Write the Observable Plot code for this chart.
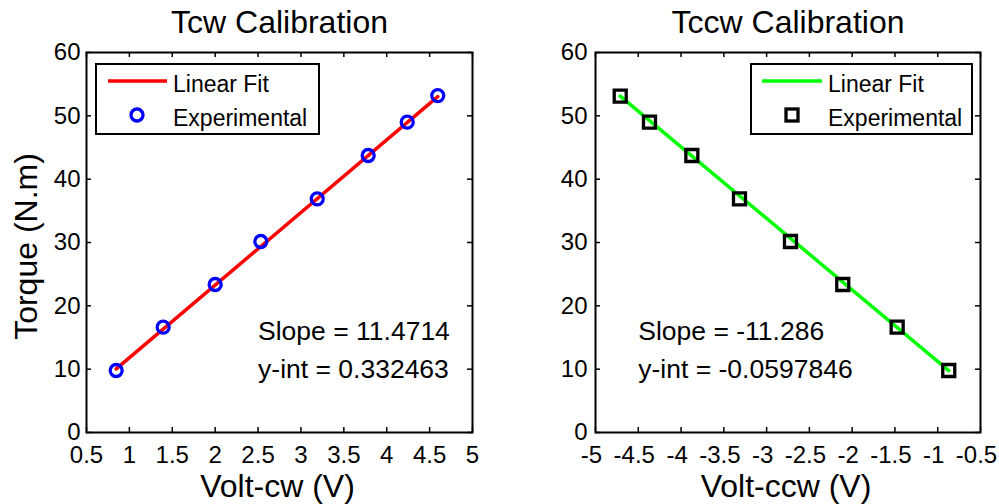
<!DOCTYPE html>
<html><head><meta charset="utf-8">
<script src="https://cdn.jsdelivr.net/npm/d3@7"></script>
<script src="https://cdn.jsdelivr.net/npm/@observablehq/plot@0.6"></script>
<style>
body{margin:0;background:#fff;}
#wrap{position:relative;width:999px;height:504px;overflow:hidden;background:#fff;font-family:"Liberation Sans",Arial,sans-serif;}
.panel{position:absolute;top:0;}
#legend{position:absolute;left:0;top:0;}
</style></head><body><div id="wrap"></div>
<script>
// ---- data ----
const cwVolt = [0.846, 1.394, 2.0, 2.532, 3.19, 3.784, 4.239, 4.595];
const cwTorque = [9.79, 16.63, 23.37, 30.16, 36.9, 43.74, 49.0, 53.2];
const cwFitVolt = [0.846, 4.595];
const cwFitTorque = [10.04, 53.04];
const ccwVolt = [-4.711, -4.369, -3.874, -3.317, -2.721, -2.11, -1.474, -0.871];
const ccwTorque = [53.1, 49.0, 43.74, 36.9, 30.16, 23.37, 16.63, 9.79];
const ccwFitVolt = [-4.711, -0.871];
const ccwFitTorque = [53.11, 9.77];
const cwXTicks = [0.5, 1, 1.5, 2, 2.5, 3, 3.5, 4, 4.5, 5];
const ccwXTicks = [-5, -4.5, -4, -3.5, -3, -2.5, -2, -1.5, -1, -0.5];
const yTicks = [0, 10, 20, 30, 40, 50, 60];
const titles = ["Tcw Calibration", "Tccw Calibration"];
const xLabels = ["Volt-cw (V)", "Volt-ccw (V)"];
const yLabel = "Torque (N.m)";
const legendLabels = ["Linear Fit", "Experimental"];
const cwNoteText = ["Slope = 11.4714", "y-int = 0.332463"];
const cwNoteX = [2.5, 2.5];
const cwNoteY = [16, 10];
const ccwNoteText = ["Slope = -11.286", "y-int = -0.0597846"];
const ccwNoteX = [-4.5, -4.5];
const ccwNoteY = [16, 10];

const FONT = "'Liberation Sans', Arial, sans-serif";
const W = 500, H = 504, MT = 52, MB = 72;

function panel(o) {
  const fw = W - o.ml - o.mr, fh = H - MT - MB;
  const pts = o.px.map((x, i) => ({x, y: o.py[i]}));
  const fit = o.fx.map((x, i) => ({x, y: o.fy[i]}));
  const notes = o.noteText.map((t, i) => ({x: o.noteX[i], y: o.noteY[i], t}));
  const marks = [
    Plot.tickX(o.xTicks, {x: d => d, insetTop: fh - 5, stroke: "black", strokeWidth: 1.5}),
    Plot.tickX(o.xTicks, {x: d => d, insetBottom: fh - 5, stroke: "black", strokeWidth: 1.5}),
    Plot.tickY(yTicks, {y: d => d, insetRight: fw - 5, stroke: "black", strokeWidth: 1.5}),
    Plot.tickY(yTicks, {y: d => d, insetLeft: fw - 5, stroke: "black", strokeWidth: 1.5}),
    Plot.line(fit, {x: "x", y: "y", stroke: o.color, strokeWidth: 3.5}),
    Plot.dot(pts, {x: "x", y: "y", symbol: o.symbol, r: o.r, stroke: o.mstroke, strokeWidth: 3.3, fill: "none"}),
    Plot.frame({stroke: "black", strokeWidth: 2}),
    Plot.axisX(o.xTicks, {tickSize: 0, tickPadding: 13, dx: o.xdx, fontSize: 24, tickFormat: d => String(d), label: null}),
    Plot.axisY(yTicks, {tickSize: 0, tickPadding: o.ypad, fontSize: 24, tickFormat: d => String(d), label: null}),
    Plot.text([o.title], {text: d => d, frameAnchor: "top", dy: -29.5, fontSize: 32, lineAnchor: "middle"}),
    Plot.text([o.xLabel], {text: d => d, frameAnchor: "bottom", dy: 54, dx: -2, fontSize: 32, lineAnchor: "middle"}),
    Plot.text(notes, {x: "x", y: "y", text: "t", textAnchor: "start", fontSize: 26.5, lineAnchor: "middle"})
  ];
  if (o.yLab) marks.push(Plot.text([o.yLab], {text: d => d, frameAnchor: "left", textAnchor: "middle", rotate: -90, dx: -60, dy: 4, fontSize: 32, lineAnchor: "middle"}));
  return Plot.plot({
    width: W, height: H,
    marginLeft: o.ml, marginRight: o.mr, marginTop: MT, marginBottom: MB,
    x: {domain: [o.xTicks[0], o.xTicks[o.xTicks.length - 1]], label: null},
    y: {domain: [0, 60], label: null},
    style: {fontFamily: FONT, color: "black", background: "transparent", overflow: "visible"},
    marks
  });
}

const wrap = document.getElementById("wrap");
const left = panel({xTicks: cwXTicks, px: cwVolt, py: cwTorque, fx: cwFitVolt, fy: cwFitTorque,
  color: "#ff0000", symbol: "circle", r: 6, mstroke: "#0000ff",
  noteText: cwNoteText, noteX: cwNoteX, noteY: cwNoteY,
  title: titles[0], xLabel: xLabels[0], yLab: yLabel, ml: 86, mr: 28, ypad: 6, xdx: 0});
const right = panel({xTicks: ccwXTicks, px: ccwVolt, py: ccwTorque, fx: ccwFitVolt, fy: ccwFitTorque,
  color: "#00ff00", symbol: "square", r: 6.77, mstroke: "#000000",
  noteText: ccwNoteText, noteX: ccwNoteX, noteY: ccwNoteY,
  title: titles[1], xLabel: xLabels[1], yLab: null, ml: 96, mr: 19, ypad: 8, xdx: -4});
left.classList.add("panel"); left.style.left = "0px";
right.classList.add("panel"); right.style.left = "499px";
wrap.appendChild(left); wrap.appendChild(right);

// ---- legends (drawn as an overlay) ----
const svg = d3.select(wrap).append("svg").attr("id", "legend").attr("width", 999).attr("height", 504)
  .style("font-family", FONT);
function legend(g, box, lineX, markX, textX, color, kind, mstroke) {
  g.append("rect").attr("x", box[0]).attr("y", box[1]).attr("width", box[2]).attr("height", box[3])
    .attr("fill", "white").attr("stroke", "black").attr("stroke-width", 2);
  g.append("line").attr("x1", lineX[0]).attr("x2", lineX[1]).attr("y1", 81).attr("y2", 81)
    .attr("stroke", color).attr("stroke-width", 3.5);
  if (kind === "circle") g.append("circle").attr("cx", markX).attr("cy", 115).attr("r", 6)
    .attr("fill", "none").attr("stroke", mstroke).attr("stroke-width", 3.3);
  else g.append("rect").attr("x", markX - 6).attr("y", 109).attr("width", 12).attr("height", 12)
    .attr("fill", "none").attr("stroke", mstroke).attr("stroke-width", 3.3);
  legendLabels.forEach((t, i) => g.append("text").attr("x", textX).attr("y", i ? 125.5 : 91.5)
    .attr("font-size", 23).attr("fill", "black").text(t));
}
legend(svg.append("g"), [96, 64, 223, 70], [108, 167], 137, 173, "#ff0000", "circle", "#0000ff");
legend(svg.append("g"), [751, 64, 221, 70], [762, 822], 792, 828, "#00ff00", "square", "#000000");
</script></body></html>
